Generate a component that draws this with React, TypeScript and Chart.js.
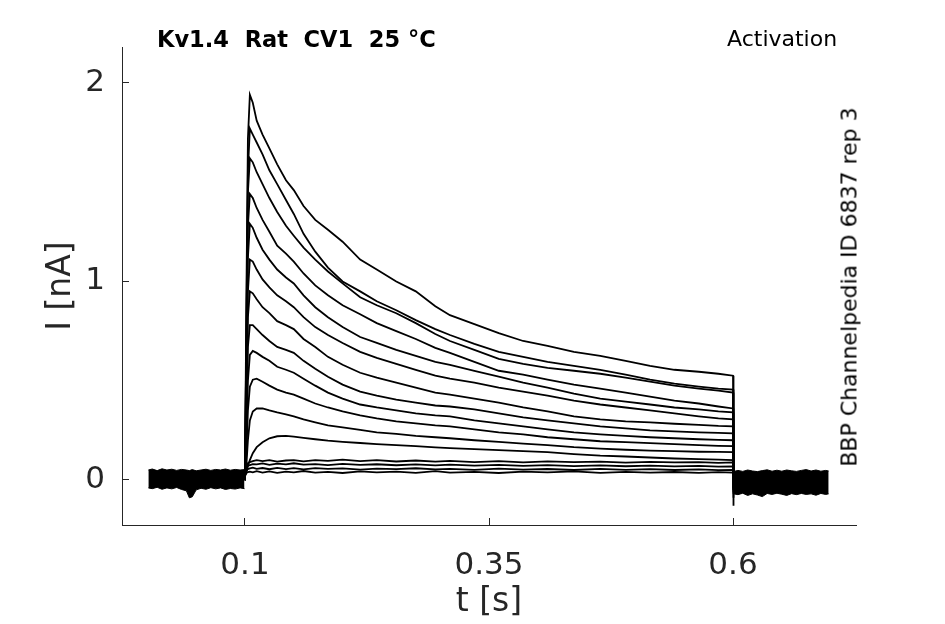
import { useEffect, useRef } from "react";
import { Chart, registerables } from "chart.js";

Chart.register(...registerables);

// common time base (s) of the traces, pulse from 0.1 to 0.6
const times = [
  0.0995, 0.1, 0.1015, 0.103, 0.105, 0.108, 0.112, 0.118, 0.125, 0.133, 0.142, 0.15, 0.16, 0.172, 0.185, 0.2,
  0.218, 0.235, 0.255, 0.275, 0.295, 0.31, 0.335, 0.36, 0.385, 0.41, 0.437, 0.464, 0.49, 0.515, 0.54, 0.565,
  0.585, 0.6, 0.6005,
];

// currents (nA), one array per voltage step
const traceA = [
  0.01, 0.04, 0.95, 1.72, 1.94, 1.9, 1.81, 1.74, 1.67, 1.59, 1.51, 1.46, 1.38, 1.31, 1.26, 1.2, 1.11, 1.06, 1.0,
  0.95, 0.875, 0.83, 0.785, 0.74, 0.7, 0.675, 0.645, 0.625, 0.6, 0.575, 0.555, 0.545, 0.535, 0.525, -0.13,
];
const traceB = [
  0.01, 0.04, 0.8, 1.56, 1.77, 1.74, 1.7, 1.64, 1.56, 1.49, 1.41, 1.34, 1.24, 1.15, 1.07, 1.0, 0.95, 0.9, 0.855,
  0.805, 0.76, 0.73, 0.685, 0.645, 0.62, 0.595, 0.575, 0.555, 0.53, 0.505, 0.485, 0.47, 0.46, 0.455, -0.09,
];
const traceC = [
  0.01, 0.04, 0.75, 1.45, 1.62, 1.6, 1.55, 1.49, 1.42, 1.35, 1.28, 1.23, 1.17, 1.11, 1.05, 0.99, 0.92, 0.88, 0.84,
  0.79, 0.735, 0.7, 0.655, 0.61, 0.585, 0.565, 0.55, 0.535, 0.515, 0.495, 0.475, 0.46, 0.45, 0.44, -0.07,
];
const traceD = [
  0.01, 0.035, 0.65, 1.28, 1.44, 1.42, 1.37, 1.31, 1.25, 1.18, 1.14, 1.1, 1.04, 0.98, 0.93, 0.88, 0.835, 0.79,
  0.75, 0.71, 0.665, 0.64, 0.595, 0.55, 0.53, 0.505, 0.48, 0.46, 0.44, 0.42, 0.4, 0.385, 0.37, 0.36, -0.06,
];
const traceE = [
  0.01, 0.035, 0.55, 1.12, 1.29, 1.27, 1.22, 1.16, 1.11, 1.06, 1.02, 0.99, 0.93, 0.87, 0.82, 0.77, 0.72, 0.69,
  0.655, 0.625, 0.595, 0.58, 0.55, 0.52, 0.49, 0.465, 0.435, 0.41, 0.395, 0.38, 0.365, 0.355, 0.345, 0.34, -0.05,
];
const traceF = [
  0.01, 0.03, 0.45, 0.95, 1.11, 1.1, 1.06, 1.01, 0.97, 0.93, 0.9, 0.87, 0.82, 0.77, 0.73, 0.69, 0.645, 0.615, 0.585,
  0.555, 0.525, 0.51, 0.49, 0.465, 0.445, 0.425, 0.4, 0.38, 0.365, 0.35, 0.335, 0.32, 0.31, 0.305, -0.05,
];
const traceG = [
  0.01, 0.03, 0.38, 0.82, 0.95, 0.94, 0.91, 0.87, 0.84, 0.8, 0.78, 0.76, 0.71, 0.67, 0.62, 0.58, 0.54, 0.515, 0.49,
  0.465, 0.44, 0.43, 0.41, 0.39, 0.365, 0.345, 0.32, 0.305, 0.295, 0.29, 0.283, 0.277, 0.272, 0.27, -0.04,
];
const traceH = [
  0.01, 0.03, 0.3, 0.67, 0.78, 0.78, 0.76, 0.73, 0.7, 0.67, 0.655, 0.64, 0.6, 0.56, 0.52, 0.48, 0.445, 0.425, 0.405,
  0.39, 0.375, 0.37, 0.355, 0.335, 0.315, 0.3, 0.285, 0.27, 0.26, 0.25, 0.245, 0.24, 0.237, 0.235, -0.04,
];
const traceI = [
  0.01, 0.03, 0.22, 0.5, 0.63, 0.65, 0.64, 0.62, 0.6, 0.57, 0.555, 0.54, 0.51, 0.475, 0.44, 0.41, 0.38, 0.365, 0.35,
  0.335, 0.325, 0.32, 0.3, 0.285, 0.27, 0.255, 0.24, 0.23, 0.222, 0.215, 0.21, 0.205, 0.202, 0.2, -0.05,
];
const traceJ = [
  0.01, 0.025, 0.14, 0.35, 0.47, 0.505, 0.51, 0.495, 0.475, 0.455, 0.44, 0.43, 0.41, 0.385, 0.365, 0.345, 0.325,
  0.31, 0.295, 0.285, 0.275, 0.27, 0.255, 0.24, 0.23, 0.215, 0.205, 0.195, 0.19, 0.185, 0.18, 0.175, 0.172, 0.17,
  -0.04,
];
const traceK = [
  0.01, 0.02, 0.08, 0.2, 0.3, 0.345, 0.36, 0.36, 0.35, 0.34, 0.33, 0.32, 0.305, 0.29, 0.275, 0.265, 0.252, 0.24,
  0.232, 0.222, 0.215, 0.21, 0.2, 0.192, 0.183, 0.175, 0.165, 0.158, 0.152, 0.148, 0.145, 0.142, 0.141, 0.14, -0.03,
];
const traceL = [
  0.01, 0.02, 0.04, 0.07, 0.1, 0.135, 0.165, 0.19, 0.21, 0.22, 0.222, 0.218, 0.212, 0.205, 0.198, 0.192, 0.186,
  0.18, 0.175, 0.17, 0.164, 0.16, 0.155, 0.15, 0.145, 0.14, 0.13, 0.122, 0.118, 0.113, 0.108, 0.105, 0.102, 0.1,
  -0.03,
];
const traceS1 = [
  0.01, 0.03, 0.07, 0.085, 0.09, 0.095, 0.1, 0.095, 0.1, 0.092, 0.098, 0.1, 0.094, 0.1, 0.096, 0.102, 0.095, 0.1,
  0.093, 0.098, 0.092, 0.096, 0.09, 0.095, 0.088, 0.094, 0.09, 0.092, 0.087, 0.091, 0.088, 0.09, 0.086, 0.088, -0.02,
];
const traceS2 = [
  0.01, 0.03, 0.06, 0.07, 0.075, 0.08, 0.078, 0.083, 0.076, 0.082, 0.078, 0.084, 0.077, 0.08, 0.075, 0.081, 0.076,
  0.079, 0.074, 0.078, 0.073, 0.077, 0.072, 0.076, 0.071, 0.075, 0.07, 0.073, 0.069, 0.072, 0.068, 0.071, 0.067,
  0.068, -0.02,
];
const traceS3 = [
  0.0, 0.025, 0.045, 0.055, 0.058, 0.062, 0.056, 0.06, 0.054, 0.061, 0.055, 0.059, 0.053, 0.06, 0.056, 0.058, 0.052,
  0.057, 0.054, 0.059, 0.053, 0.056, 0.051, 0.057, 0.052, 0.055, 0.05, 0.056, 0.051, 0.054, 0.05, 0.053, 0.049,
  0.05, -0.01,
];
const traceS4 = [
  0.0, 0.02, 0.035, 0.04, 0.042, 0.038, 0.044, 0.037, 0.043, 0.036, 0.042, 0.038, 0.045, 0.037, 0.041, 0.035, 0.043,
  0.038, 0.042, 0.036, 0.044, 0.037, 0.041, 0.035, 0.042, 0.038, 0.043, 0.036, 0.041, 0.037, 0.04, 0.036, 0.039,
  0.037, 0.0,
];

const traces = [
  traceA, traceB, traceC, traceD, traceE, traceF, traceG, traceH, traceI, traceJ, traceK, traceL,
  traceS1, traceS2, traceS3, traceS4,
];

// noisy baseline before and after the pulse (all sweeps overlap into one band)
const preTimes = [
  0.001, 0.005, 0.01, 0.015, 0.02, 0.025, 0.03, 0.035, 0.04, 0.043, 0.046, 0.05, 0.055, 0.06, 0.065, 0.07, 0.075,
  0.08, 0.085, 0.09, 0.095, 0.0995,
];
const preTop = [
  0.05, 0.055, 0.047, 0.056, 0.05, 0.054, 0.048, 0.053, 0.05, 0.047, 0.052, 0.046, 0.05, 0.054, 0.048, 0.053, 0.05,
  0.055, 0.049, 0.053, 0.05, 0.052,
];
const preBottom = [
  -0.04, -0.044, -0.037, -0.047, -0.04, -0.045, -0.038, -0.048, -0.055, -0.09, -0.085, -0.05, -0.042, -0.047, -0.039,
  -0.045, -0.04, -0.048, -0.043, -0.046, -0.04, -0.044,
];
const postTimes = [
  0.6005, 0.605, 0.61, 0.615, 0.62, 0.625, 0.63, 0.635, 0.64, 0.645, 0.65, 0.655, 0.66, 0.665, 0.67, 0.675, 0.68,
  0.685, 0.69, 0.695, 0.698,
];
const postTop = [
  0.042, 0.048, 0.043, 0.05, 0.045, 0.042, 0.047, 0.051, 0.044, 0.049, 0.044, 0.05, 0.046, 0.043, 0.048, 0.052, 0.045,
  0.05, 0.044, 0.048, 0.045,
];
const postBottom = [
  -0.07, -0.074, -0.067, -0.078, -0.07, -0.076, -0.084, -0.068, -0.073, -0.067, -0.072, -0.078, -0.069, -0.074,
  -0.068, -0.073, -0.07, -0.077, -0.068, -0.073, -0.07,
];

const xTicks = [0.1, 0.35, 0.6];
const yTicks = [0, 1, 2];

const AXIS = "#262626";
const FONT = '"DejaVu Sans", sans-serif';

const pts = (xs: number[], ys: number[]) => xs.map((x, i) => ({ x, y: ys[i] }));

const edge = (xs: number[], ys: number[], fill: string | boolean) => ({
  data: pts(xs, ys),
  borderColor: "#000",
  backgroundColor: "#000",
  borderWidth: 1,
  pointRadius: 0,
  fill,
});

function TraceChart() {
  const canvasRef = useRef<HTMLCanvasElement>(null);

  useEffect(() => {
    const el = canvasRef.current;
    if (!el) return;
    const chart = new Chart(el, {
      type: "line",
      data: {
        datasets: [
          edge(preTimes, preTop, false),
          edge(preTimes, preBottom, "-1"),
          edge(postTimes, postTop, false),
          edge(postTimes, postBottom, "-1"),
          ...traces.map((ys) => ({
            data: pts(times, ys),
            borderColor: "#000",
            borderWidth: 1.8,
            pointRadius: 0,
            fill: false,
          })),
        ],
      },
      options: {
        animation: false,
        responsive: false,
        layout: { padding: { top: 47, right: 89, left: 0, bottom: 0 } },
        plugins: { legend: { display: false }, tooltip: { enabled: false } },
        scales: {
          x: {
            type: "linear",
            min: -0.026,
            max: 0.726,
            afterBuildTicks: (s: any) => {
              s.ticks = xTicks.map((value) => ({ value }));
            },
            afterFit: (s: any) => {
              s.height = 99;
            },
            ticks: {
              callback: (v: any) => String(v),
              color: AXIS,
              font: { family: FONT, size: 31 },
              padding: 29,
              maxRotation: 0,
            },
            grid: { drawOnChartArea: false, drawTicks: true, tickLength: -7, color: AXIS },
            border: { display: true, color: AXIS, width: 1 },
            title: {
              display: true,
              text: "t [s]",
              color: AXIS,
              font: { family: FONT, size: 33 },
              padding: { top: 0, bottom: 2 },
            },
          },
          y: {
            type: "linear",
            min: -0.227,
            max: 2.181,
            afterBuildTicks: (s: any) => {
              s.ticks = yTicks.map((value) => ({ value }));
            },
            afterFit: (s: any) => {
              s.width = 122;
            },
            ticks: {
              callback: (v: any) => String(v),
              color: AXIS,
              font: { family: FONT, size: 31 },
              padding: 24,
            },
            grid: { drawOnChartArea: false, drawTicks: true, tickLength: -7, color: AXIS },
            border: { display: true, color: AXIS, width: 1 },
            title: {
              display: true,
              text: "I [nA]",
              color: AXIS,
              font: { family: FONT, size: 33 },
              padding: { top: 42, bottom: 0 },
            },
          },
        },
      },
    });
    return () => chart.destroy();
  }, []);

  return <canvas ref={canvasRef} width={945} height={624} style={{ display: "block" }} />;
}

export default function App() {
  return (
    <div style={{ position: "fixed", left: 0, top: 0, width: 945, height: 624, background: "#fff" }}>
      <TraceChart />
      <div
        style={{
          position: "absolute",
          left: 157,
          top: 26,
          font: `bold 22.5px ${FONT}`,
          whiteSpace: "pre",
          color: "#000",
        }}
      >
        {"Kv1.4  Rat  CV1  25 °C"}
      </div>
      <div style={{ position: "absolute", left: 727, top: 26, font: `22px ${FONT}`, color: "#000" }}>
        Activation
      </div>
      <div
        style={{
          position: "absolute",
          left: 849,
          top: 287,
          font: `22px ${FONT}`,
          color: "#000",
          whiteSpace: "nowrap",
          transform: "translate(-50%, -50%) rotate(-90deg)",
        }}
      >
        BBP Channelpedia ID 6837 rep 3
      </div>
    </div>
  );
}
